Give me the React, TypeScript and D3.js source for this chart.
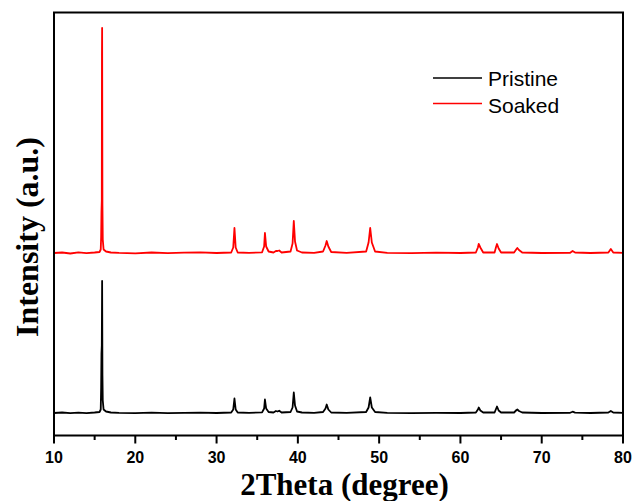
import React from "react";
import * as d3 from "d3";

// 2Theta (degree), relative intensity (a.u., arbitrary offset units)
const pristineTheta = [10,11,12,13,14,15,15.6,15.75,15.8,15.84,15.88,15.92,15.96,16.0,16.1,16.4,17,18,20,22,24,26,28,30,31.8,32.05,32.2,32.35,32.6,34,35.6,35.85,35.95,36.1,36.4,37.0,37.3,37.5,37.7,38,39.1,39.35,39.5,39.65,39.9,40.5,42,43.1,43.4,43.55,43.75,44.1,46,48.4,48.7,48.9,49.1,49.5,51,54,57,60,61.9,62.15,62.25,62.45,62.8,64.2,64.4,64.5,64.7,65,66.6,66.9,67.0,67.2,67.6,70,73.5,73.8,74.1,76,78.2,78.5,78.8,80];
const pristineIntensity = [22.5,23,22.3,22.8,22.4,23,23.5,26,48,82,90,154.5,60,35,26,24,23,22.6,22.4,22.8,22.3,22.6,22.9,22.5,23,26,37,26,23,22.7,23.2,27,36,27,23.5,23,24.5,24,24.8,23,23.5,28,43,30,24,23,22.6,23.5,27,31,26,23,22.6,23.5,28,38,28,23.5,22.7,22.4,22.6,22.5,23,26,28,25,23,23,27,29,25,23,23,25.5,26,24.5,23,22.5,22.7,23.8,22.8,22.5,23,24.5,23,22.6];

const soakedTheta = [10,11,12,13,14,15,15.6,15.75,15.8,15.84,15.88,15.9,15.92,15.96,16.0,16.1,16.4,17,18,20,22,24,26,28,30,31.8,32.05,32.2,32.35,32.6,34,35.6,35.85,35.95,36.1,36.4,37.0,37.3,37.5,37.7,38,39.1,39.35,39.5,39.65,39.9,40.5,42,43.1,43.4,43.55,43.75,44.1,46,48.4,48.7,48.9,49.1,49.5,51,54,57,60,61.9,62.15,62.25,62.45,62.8,64.2,64.4,64.5,64.7,65,66.6,66.9,67.0,67.2,67.6,70,73.5,73.8,74.1,76,78.2,78.5,78.8,80];
const soakedIntensity = [182.5,183,182,183.2,182.4,183,183.5,186,198.5,223.5,235,380,407.5,230,196,186,184,183,182.6,182.2,183,182.4,182.8,183.1,182.5,183,188,207.5,188,183,182.7,183.2,189,202.5,189,184,183,184.5,184.5,185,183,184,192,214.5,194,185,183,182.6,184,190,194.5,189,183.5,182.6,184,193,207.5,193,184,182.7,182.4,182.8,182.5,183,188,191.5,188,183,183,189,191.5,187,183,183,186.5,187.5,185.5,183,182.5,182.7,184.5,183,182.5,183,186.5,183,182.6];

const xTicks = [10, 20, 30, 40, 50, 60, 70, 80];
const xMinorTicks = [15, 25, 35, 45, 55, 65, 75];
const seriesNames = ["Pristine", "Soaked"];
const seriesColors = ["#000000", "#ff0000"];

export default function App() {
  const W = 635, H = 501;
  const left = 54, right = 623, top = 12.5, bottom = 435.5;
  const x = d3.scaleLinear().domain([10, 80]).range([left, right]);
  const y = d3.scaleLinear().domain([0, 423]).range([bottom, top]);
  const line = d3.line<[number, number]>().x(d => x(d[0])).y(d => y(d[1]));
  const pristine = pristineTheta.map((t, i) => [t, pristineIntensity[i]] as [number, number]);
  const soaked = soakedTheta.map((t, i) => [t, soakedIntensity[i]] as [number, number]);
  const data = [pristine, soaked];

  return (
    <svg width={W} height={H} style={{ position: "absolute", left: 0, top: 0 }}>
      <rect width={W} height={H} fill="#fff" />
      {data.map((d, i) => (
        <path key={i} d={line(d) || ""} fill="none" stroke={seriesColors[i]} strokeWidth={1.8} strokeLinejoin="round" />
      ))}
      <rect x={left} y={top} width={right - left} height={bottom - top} fill="none" stroke="#000" strokeWidth={2} />
      {xTicks.map(t => (
        <g key={t}>
          <line x1={x(t)} x2={x(t)} y1={bottom} y2={bottom + 8} stroke="#000" strokeWidth={2} />
          <text x={x(t)} y={462.5} textAnchor="middle" fontFamily="Liberation Sans, Arial, sans-serif" fontWeight="bold" fontSize={16}>{t}</text>
        </g>
      ))}
      {xMinorTicks.map(t => (
        <line key={t} x1={x(t)} x2={x(t)} y1={bottom} y2={bottom + 4.5} stroke="#000" strokeWidth={2} />
      ))}
      <text x={(left + right) / 2 + 6} y={495} textAnchor="middle" fontFamily="Liberation Serif, 'Times New Roman', serif" fontWeight="bold" fontSize={31}>2Theta (degree)</text>
      <text transform={`translate(38,237) rotate(-90)`} textAnchor="middle" fontFamily="Liberation Serif, 'Times New Roman', serif" fontWeight="bold" fontSize={32}>Intensity (a.u.)</text>
      {seriesNames.map((n, i) => (
        <g key={n}>
          <line x1={433} x2={482} y1={78 + i * 25.5} y2={78 + i * 25.5} stroke={seriesColors[i]} strokeWidth={1.5} />
          <text x={488} y={86 + i * 26.5} fontFamily="Liberation Sans, Arial, sans-serif" fontSize={21}>{n}</text>
        </g>
      ))}
    </svg>
  );
}
